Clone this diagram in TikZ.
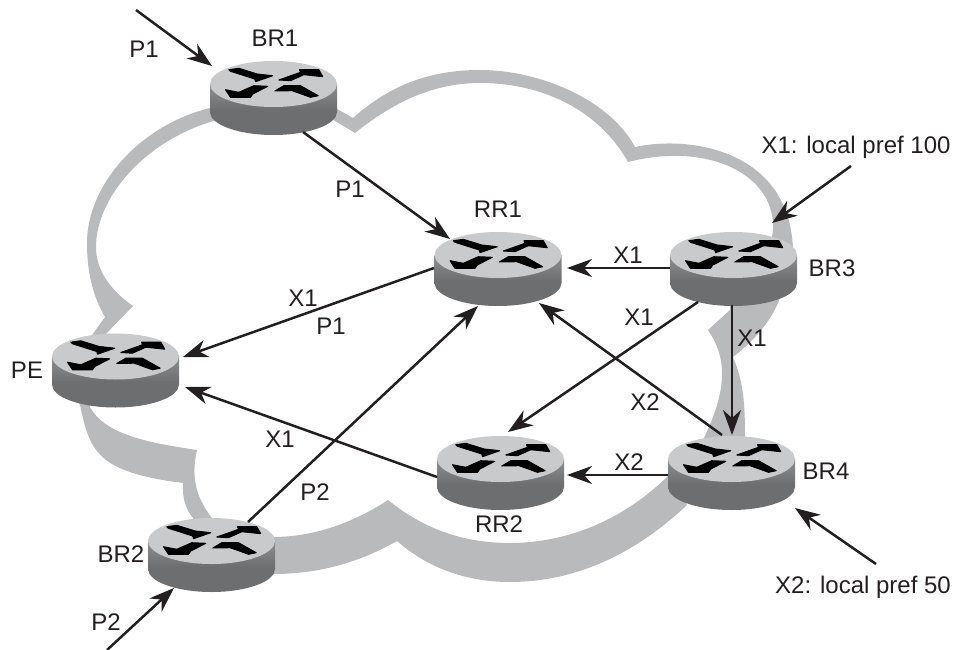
\documentclass[tikz,border=0pt]{standalone}
\usepackage{fontspec}
\setmainfont{Liberation Sans}
\usetikzlibrary{arrows.meta}
\definecolor{cloudgray}{HTML}{B9BABC}
\definecolor{routertop}{HTML}{C9CACC}
\definecolor{routerlite}{HTML}{8E8F91}
\definecolor{routerside}{HTML}{6D6E70}
\definecolor{ink}{HTML}{231F20}
\tikzset{
  cloudpart/.style={fill=cloudgray},
  routerbox/.style={rectangle,minimum width=127pt,minimum height=74pt,inner sep=0pt,outer sep=0pt},
  lab/.style={inner sep=0pt,text=ink,font=\fontsize{24}{26}\selectfont},
  link/.style={draw=ink,line width=2.5pt,-{Stealth[length=25pt,width=18pt,inset=8pt]}},
  glyph/.style={fill=black,draw=black,line width=1pt,line join=round},
  routerpic/.pic={
    \shade[top color=routerlite,bottom color=routerside,middle color=routerside]
      (-63.5,-14) -- (-63.5,14) arc[start angle=180,end angle=360,x radius=63.5,y radius=-23] -- (63.5,-14) -- cycle;
    \fill[routertop] (0,-14) ellipse[x radius=63.5,y radius=23];
    \begin{scope}[shift={(0,-14)}]
      \path[glyph] (-44.7,-14.3) -- (-34.7,-15.7) -- (-16.3,-10) -- (-0.7,-8.3) -- (-18,-2.3) -- (-18.7,-5) -- (-43,-12.7) -- cycle;
      \path[glyph] (5.3,-4) -- (27,-11.7) -- (26,-14.3) -- (45.3,-14.3) -- (49.3,-7.3) -- (30.3,-9.3) -- (17,-3.3) -- cycle;
      \path[glyph] (-5.7,2.3) -- (-19.7,1.7) -- (-34.7,8.3) -- (-48,5.7) -- (-43,13.3) -- (-23,13.3) -- (-20.7,10) -- cycle;
      \path[glyph] (1.3,7) -- (10.3,1.7) -- (27,1.7) -- (44.7,11.7) -- (37,13.3) -- (18.7,6.7) -- cycle;
    \end{scope}
  }
}
\begin{document}
\begin{tikzpicture}[x=1pt,y=-1pt]
\useasboundingbox (0,0) rectangle (953,650);
% cloud
\fill[cloudpart] (225,105) -- (210,108) .. controls (140,125) and (87,185) .. (87,243) .. controls (87,270) and (92,295) .. (105,317) -- (85,345) -- (110,345) -- (103,337) -- (133,306) .. controls (110,290) and (96,270) .. (96,247) .. controls (96,195) and (150,135) .. (225,118) -- cycle;
\fill[cloudpart] (330,105) -- (353,118) .. controls (390,85) and (430,70) .. (480,70) .. controls (540,70) and (610,100) .. (635,147) .. controls (690,135) and (790,150) .. (793,250) -- (780,255) -- (770,250) -- (772,237) .. controls (782,180) and (715,140) .. (628,162) .. controls (600,112) and (545,83) .. (480,83) .. controls (430,83) and (390,105) .. (355,133) -- (330,118) -- cycle;
\fill[cloudpart] (730,300) -- (730,310) -- (708,330) .. controls (725,355) and (730,385) .. (703,440) -- (745,445) .. controls (745,410) and (745,385) .. (733,357) .. controls (755,340) and (772,320) .. (780,298) -- cycle;
\fill[cloudpart] (672,472) .. controls (620,525) and (560,543) .. (510,543) .. controls (465,543) and (425,530) .. (388,500) .. controls (350,525) and (310,537) .. (273,537) -- (250,537) -- (250,574) -- (273,574) .. controls (320,574) and (360,562) .. (397,541) .. controls (430,570) and (470,582) .. (510,582) .. controls (590,582) and (650,540) .. (687,505) -- cycle;
\fill[cloudpart] (75,395) -- (80,405) .. controls (90,450) and (95,472) .. (183,483) .. controls (182,498) and (186,510) .. (193,518) -- (193,525) -- (212,525) -- (212,518) .. controls (198,500) and (190,480) .. (197,450) .. controls (150,443) and (105,435) .. (90,407) -- (92,395) -- cycle;
% routers
\node[routerbox] (BR1) at (273.5,98) {};
\node[routerbox] (RR1) at (498,269) {};
\node[routerbox] (BR3) at (733.5,269) {};
\node[routerbox] (PE) at (115.5,370.5) {};
\node[routerbox] (RR2) at (500.5,473) {};
\node[routerbox] (BR4) at (731.5,473) {};
\node[routerbox] (BR2) at (211.5,555) {};
\foreach \r in {BR1,RR1,BR3,PE,RR2,BR4,BR2} {\pic at (\r.center) {routerpic};}
% free ends
\coordinate (inP1) at (136,10);
\coordinate (inP2) at (107,650);
\coordinate (inX1) at (851,166);
\coordinate (inX2) at (876,564);
% connectors
\draw[link] (inP1) -- ([shift={(-61.5,-32)}]BR1.center);
\draw[link] ([shift={(29.5,34)}]BR1.center) -- ([shift={(-48,-30)}]RR1.center);
\draw[link] ([shift={(-63.5,-1)}]BR3.center) -- ([shift={(69,-1)}]RR1.center);
\draw[link] ([shift={(-64,-1)}]RR1.center) -- ([shift={(67.5,-13.5)}]PE.center);
\draw[link] ([shift={(-63.5,4)}]RR2.center) -- ([shift={(69.5,16.5)}]PE.center);
\draw[link] ([shift={(36.5,-33)}]BR2.center) -- ([shift={(-20,37)}]RR1.center);
\draw[link] (inP2) -- ([shift={(-37.5,33)}]BR2.center);
\draw[link] ([shift={(-9.5,-38)}]BR4.center) -- ([shift={(41,34)}]RR1.center);
\draw[link] ([shift={(-35.5,33)}]BR3.center) -- ([shift={(7.5,-41)}]RR2.center);
\draw[link] ([shift={(-1.5,36)}]BR3.center) -- ([shift={(0.5,-38)}]BR4.center);
\draw[link] ([shift={(-63.5,2)}]BR4.center) -- ([shift={(66.5,2)}]RR2.center);
\draw[link] (inX1) -- ([shift={(38.5,-46)}]BR3.center);
\draw[link] (inX2) -- ([shift={(63.5,35)}]BR4.center);
% labels
\node[lab] (t1) at (144,49) {P1};
\node[lab] (t2) at (275,38) {BR1};
\node[lab] (t3) at (350,189) {P1};
\node[lab] (t4) at (498,209) {RR1};
\node[lab] (t5) at (628,255) {X1};
\node[lab] (t6) at (832,268) {BR3};
\node[lab] (t7) at (856,147) {X1: local pref 100};
\node[lab] (t8) at (639,317) {X1};
\node[lab] (t9) at (752,338) {X1};
\node[lab] (t10) at (645,402) {X2};
\node[lab] (t11) at (303,298) {X1};
\node[lab] (t12) at (331,326) {P1};
\node[lab] (t13) at (27,370) {PE};
\node[lab] (t14) at (280,439) {X1};
\node[lab] (t15) at (315,492) {P2};
\node[lab] (t16) at (499,524) {RR2};
\node[lab] (t17) at (629,462) {X2};
\node[lab] (t18) at (826,471) {BR4};
\node[lab] (t19) at (121,554) {BR2};
\node[lab] (t20) at (106,622) {P2};
\node[lab] (t21) at (863,587) {X2: local pref 50};
\end{tikzpicture}
\end{document}
